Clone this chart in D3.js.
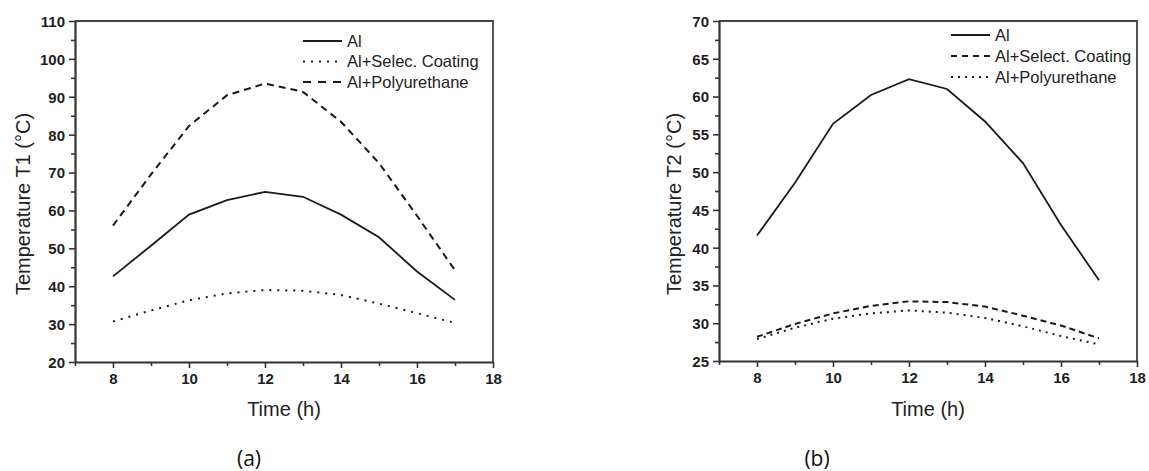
<!DOCTYPE html>
<html>
<head>
<meta charset="utf-8">
<script src="https://cdn.jsdelivr.net/npm/d3@7"></script>
<style>
  body { margin: 0; background: #fff; }
  svg { display: block; }
  .tick text { font-family: "Liberation Sans", Arial, sans-serif; font-weight: bold; font-size: 15px; fill: #1e1e1e; }
  .domain, .tick line { stroke: #333; }
</style>
</head>
<body>
<div id="chart"></div>
<script>
// Data
const hours = [8, 9, 10, 11, 12, 13, 14, 15, 16, 17];

// panel (a) : temperature T1
const t1Al = [42.6, 50.7, 58.9, 62.7, 64.9, 63.6, 58.9, 52.9, 43.9, 36.4];
const t1Coating = [30.7, 33.6, 36.3, 38.1, 39.0, 38.8, 37.7, 35.4, 32.9, 30.3];
const t1Poly = [56.0, 69.5, 82.3, 90.4, 93.5, 91.3, 83.4, 72.5, 58.6, 44.2];

// panel (b) : temperature T2
const t2Al = [41.6, 48.6, 56.4, 60.2, 62.3, 61.0, 56.7, 51.2, 43.0, 35.7];
const t2Coating = [28.2, 29.9, 31.3, 32.3, 32.9, 32.8, 32.2, 31.0, 29.7, 28.0];
const t2Poly = [27.9, 29.4, 30.6, 31.3, 31.7, 31.4, 30.7, 29.6, 28.3, 27.2];

const xTicks = [8, 10, 12, 14, 16, 18];
const xMinor = [7, 9, 11, 13, 15, 17];
const t1Ticks = [20, 30, 40, 50, 60, 70, 80, 90, 100, 110];
const t1Minor = [25, 35, 45, 55, 65, 75, 85, 95, 105];
const t2Ticks = [25, 30, 35, 40, 45, 50, 55, 60, 65, 70];
const t2Minor = [27.5, 32.5, 37.5, 42.5, 47.5, 52.5, 57.5, 62.5, 67.5];

const width = 1149, height = 471;

const svg = d3.select('#chart')
    .append('svg')
    .attr('width', width)
    .attr('height', height);

function drawPanel(p) {
    const x = d3.scaleLinear().domain([7, 18]).range([p.left, p.right]);
    const y = d3.scaleLinear().domain(p.yDomain).range([p.bottom, p.top]);
    const g = svg.append('g');

    // frame (top + right)
    g.append('path')
        .attr('d', `M${p.left},${p.top}H${p.right}V${p.bottom}`)
        .attr('fill', 'none')
        .attr('stroke', '#444')
        .attr('stroke-width', 1.8);

    // minor ticks
    g.append('g')
        .attr('transform', `translate(0,${p.bottom})`)
        .call(d3.axisBottom(x).tickValues(xMinor).tickSize(4).tickFormat(''))
        .call(a => a.select('.domain').remove())
        .selectAll('line').attr('stroke-width', 1.6);
    g.append('g')
        .attr('transform', `translate(${p.left},0)`)
        .call(d3.axisLeft(y).tickValues(p.yMinor).tickSize(4).tickFormat(''))
        .call(a => a.select('.domain').remove())
        .selectAll('line').attr('stroke-width', 1.6);

    // major axes
    const xa = g.append('g')
        .attr('transform', `translate(0,${p.bottom})`)
        .call(d3.axisBottom(x).tickValues(xTicks).tickSize(6).tickSizeOuter(0).tickPadding(5));
    xa.select('.domain').attr('stroke-width', 2.2);
    xa.selectAll('.tick line').attr('stroke-width', 1.6);

    const ya = g.append('g')
        .attr('transform', `translate(${p.left},0)`)
        .call(d3.axisLeft(y).tickValues(p.yTicks).tickSize(6).tickSizeOuter(0).tickPadding(4));
    ya.select('.domain').attr('stroke-width', 2.2);
    ya.selectAll('.tick line').attr('stroke-width', 1.6);
    ya.selectAll('.tick text').attr('dy', '0.36em');

    // lines
    const line = d3.line().x((d, i) => x(hours[i])).y(d => y(d));
    p.series.forEach(s => {
        g.append('path')
            .datum(s.values)
            .attr('d', line)
            .attr('fill', 'none')
            .attr('stroke', '#1a1a1a')
            .attr('stroke-width', s.width)
            .attr('stroke-dasharray', s.dash)
            .attr('stroke-linecap', s.cap);
    });

    // legend
    const leg = g.append('g');
    p.series.forEach((s, i) => {
        const ly = p.legendY + i * p.legendStep;
        leg.append('line')
            .attr('x1', p.legendX).attr('x2', p.legendX + 39)
            .attr('y1', ly).attr('y2', ly)
            .attr('stroke', '#1a1a1a')
            .attr('stroke-width', s.width)
            .attr('stroke-dasharray', s.legendDash || s.dash)
            .attr('stroke-linecap', s.cap);
        leg.append('text')
            .attr('x', p.legendX + 44)
            .attr('y', ly)
            .attr('dy', '0.35em')
            .style('font-family', '"Liberation Sans", Arial, sans-serif')
            .style('font-size', '16.5px')
            .style('fill', '#222')
            .text(s.name);
    });

    // axis titles
    g.append('text')
        .attr('x', (p.left + p.right) / 2)
        .attr('y', 416)
        .attr('text-anchor', 'middle')
        .style('font-family', '"Liberation Sans", Arial, sans-serif')
        .style('font-size', '20px')
        .style('fill', '#222')
        .text('Time (h)');

    g.append('text')
        .attr('transform', `translate(${p.yTitleX},204) rotate(-90)`)
        .attr('text-anchor', 'middle')
        .style('font-family', '"Liberation Sans", Arial, sans-serif')
        .style('font-size', '20px')
        .style('fill', '#222')
        .text(p.yTitle);

    // caption
    g.append('text')
        .attr('x', p.captionX)
        .attr('y', 466)
        .attr('text-anchor', 'middle')
        .style('font-family', '"Open Sans", sans-serif')
        .style('font-size', '21px')
        .style('fill', '#111')
        .text(p.caption);
}

drawPanel({
    left: 75, right: 493, top: 21, bottom: 362,
    yDomain: [20, 110], yTicks: t1Ticks, yMinor: t1Minor,
    yTitle: 'Temperature T1 (°C)', yTitleX: 30,
    caption: '(a)', captionX: 249,
    legendX: 303, legendY: 41, legendStep: 20.5,
    series: [
        { name: 'Al', values: t1Al, dash: null, width: 1.8, cap: 'butt' },
        { name: 'Al+Selec. Coating', values: t1Coating, dash: '2,6', width: 2, cap: 'butt' },
        { name: 'Al+Polyurethane', values: t1Poly, dash: '7,5', width: 2, cap: 'butt', legendDash: '8,7' }
    ]
});

drawPanel({
    left: 719, right: 1137, top: 21, bottom: 361,
    yDomain: [25, 70], yTicks: t2Ticks, yMinor: t2Minor,
    yTitle: 'Temperature T2 (°C)', yTitleX: 681,
    caption: '(b)', captionX: 817,
    legendX: 951, legendY: 35, legendStep: 21,
    series: [
        { name: 'Al', values: t2Al, dash: null, width: 1.8, cap: 'butt' },
        { name: 'Al+Select. Coating', values: t2Coating, dash: '6,4', width: 2, cap: 'butt', legendDash: '6,5' },
        { name: 'Al+Polyurethane', values: t2Poly, dash: '2,5', width: 2, cap: 'butt' }
    ]
});
</script>
</body>
</html>
